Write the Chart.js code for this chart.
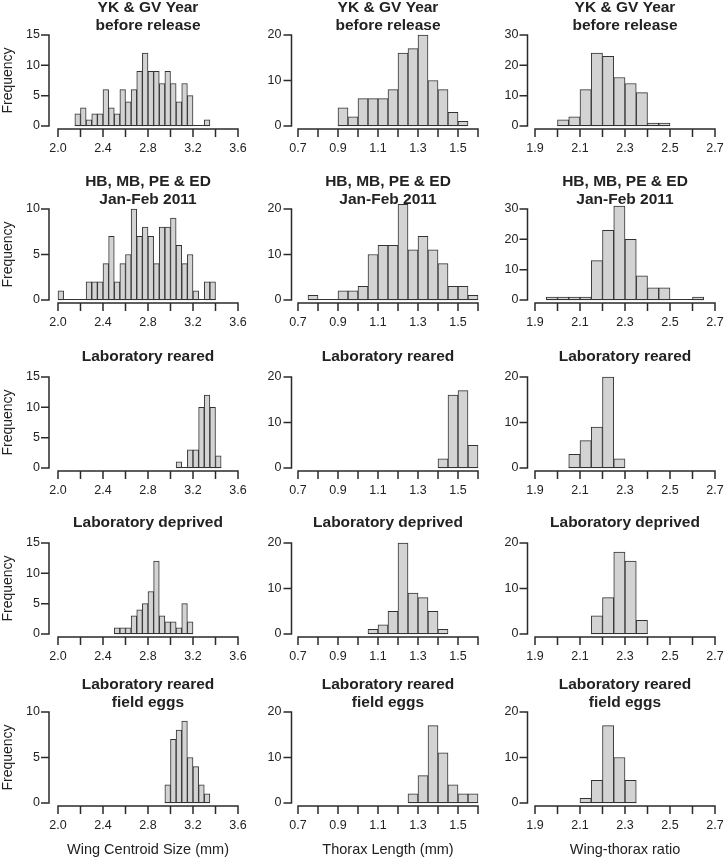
<!DOCTYPE html>
<html>
<head>
<meta charset="utf-8">
<title>Wing and thorax size histograms</title>
<script src="https://cdn.jsdelivr.net/npm/chart.js@4.4.0/dist/chart.umd.min.js"></script>
<style>
  html, body { margin: 0; padding: 0; background: #fff; overflow: hidden; }
  #page { position: relative; width: 725px; height: 859px; overflow: hidden; }
  #page canvas { position: absolute; }
</style>
</head>
<body>
<div id="page"></div>
<script>
const BIN_WIDTH = 0.05;

const rowTitles = [
  ["YK & GV Year", "before release"],
  ["HB, MB, PE & ED", "Jan-Feb 2011"],
  ["Laboratory reared"],
  ["Laboratory deprived"],
  ["Laboratory reared", "field eggs"]
];
const axisTitles = ["Wing Centroid Size (mm)", "Thorax Length (mm)", "Wing-thorax ratio"];

// x axes (one per column)
const xMin = [2.0, 0.7, 1.9];
const xMax = [3.6, 1.6, 2.7];
const xStep = [0.2, 0.1, 0.1];
const wingTickLabels = ["2.0", "2.4", "2.8", "3.2", "3.6"];
const thoraxTickLabels = ["0.7", "0.9", "1.1", "1.3", "1.5"];
const ratioTickLabels = ["1.9", "2.1", "2.3", "2.5", "2.7"];

// y axis top per row: [wing, thorax, ratio]
const yMax = [[15, 20, 30], [10, 20, 30], [15, 20, 20], [15, 20, 20], [10, 20, 20]];

// left edge of the first bin, then the count in each 0.05 bin
const wingStart = [2.15, 2.00, 3.05, 2.50, 2.95];
const wingCounts = [
  [2, 3, 1, 2, 2, 6, 3, 2, 6, 4, 6, 9, 12, 9, 9, 7, 9, 7, 4, 7, 5, 0, 0, 1],
  [1, 0, 0, 0, 0, 2, 2, 2, 4, 7, 2, 4, 5, 10, 7, 8, 7, 4, 8, 8, 9, 6, 4, 5, 1, 0, 2, 2],
  [1, 0, 3, 3, 10, 12, 10, 2],
  [1, 1, 1, 3, 4, 5, 7, 12, 3, 2, 2, 1, 5, 2],
  [2, 7, 8, 9, 5, 4, 2, 1]
];
const thoraxStart = [0.90, 0.75, 1.40, 1.05, 1.25];
const thoraxCounts = [
  [4, 2, 6, 6, 6, 8, 16, 17, 20, 10, 8, 3, 1],
  [1, 0, 0, 2, 2, 3, 10, 12, 12, 21, 11, 14, 11, 8, 3, 3, 1],
  [2, 16, 17, 5],
  [1, 2, 5, 20, 9, 8, 5, 1],
  [2, 6, 17, 11, 4, 2, 2]
];
const ratioStart = [2.00, 1.95, 2.05, 2.15, 2.10];
const ratioCounts = [
  [2, 3, 12, 24, 23, 16, 14, 11, 1, 1],
  [1, 1, 1, 1, 13, 23, 31, 20, 8, 4, 4, 0, 0, 1],
  [3, 6, 9, 20, 2],
  [4, 8, 18, 16, 3],
  [1, 5, 17, 10, 5]
];

// page layout
const colLeft = [0, 245, 485];      // canvas left edge
const plotLeft = [58, 298, 535];    // where the x axis starts
const plotWidth = 180;
const axisGap = [9, 6.5, 7.5];      // y axis sits left of the x axis start
const yTickPad = [18, 16.5, 16.5];
const plotTop = [35, 209, 377, 543, 712];
const plotHeight = 91;

const FONT = "'Liberation Sans', Arial, sans-serif";
const TEXT = "#222";
const AXIS = "#2a2a2a";
const TICK_LEN = 8;

Chart.defaults.font.family = FONT;
Chart.defaults.color = TEXT;

// prism style detached axes
const prismAxes = {
  id: "prismAxes",
  afterDatasetsDraw(chart, args, opts) {
    const { ctx, chartArea } = chart;
    const xs = chart.scales.x, ys = chart.scales.y;
    const yZero = ys.getPixelForValue(0);
    const yTop = ys.getPixelForValue(ys.max);
    const ax = chartArea.left - opts.gap;
    const ay = yZero + 3;
    ctx.save();

    // zero line across the binned range
    ctx.strokeStyle = "#333";
    ctx.lineWidth = 1;
    ctx.beginPath();
    ctx.moveTo(xs.getPixelForValue(opts.binFrom), yZero - 0.5);
    ctx.lineTo(xs.getPixelForValue(opts.binTo), yZero - 0.5);
    ctx.stroke();

    ctx.strokeStyle = AXIS;
    ctx.lineWidth = 1.5;
    ctx.beginPath();
    ctx.moveTo(ax, yTop - 0.75);
    ctx.lineTo(ax, yZero + 0.75);
    ys.ticks.forEach(t => {
      const p = ys.getPixelForValue(t.value);
      ctx.moveTo(ax - TICK_LEN, p);
      ctx.lineTo(ax, p);
    });
    ctx.moveTo(xs.getPixelForValue(xs.min) - 0.75, ay);
    ctx.lineTo(xs.getPixelForValue(xs.max) + 0.75, ay);
    xs.ticks.forEach(t => {
      const p = xs.getPixelForValue(t.value);
      ctx.moveTo(p, ay);
      ctx.lineTo(p, ay + TICK_LEN);
    });
    ctx.stroke();
    ctx.restore();
  }
};

const page = document.getElementById("page");

function makePanel(row, col) {
  const start = [wingStart, thoraxStart, ratioStart][col][row];
  const counts = [wingCounts, thoraxCounts, ratioCounts][col][row];
  const tickLabels = [wingTickLabels, thoraxTickLabels, ratioTickLabels][col];
  const points = counts.map((n, i) => ({ x: start + (i + 0.5) * BIN_WIDTH, y: n === 0 ? null : n }));

  const title = rowTitles[row];
  const lastRow = row === rowTitles.length - 1;
  const titleH = title.length === 2 ? 36 : 29;
  const xBoxH = lastRow ? 58 : 36;
  const top = plotTop[row] - titleH;
  const width = plotLeft[col] - colLeft[col] + plotWidth + 12;
  const height = titleH + plotHeight + xBoxH;

  const canvas = document.createElement("canvas");
  canvas.width = width;
  canvas.height = height;
  canvas.style.left = colLeft[col] + "px";
  canvas.style.top = top + "px";
  canvas.style.width = width + "px";
  canvas.style.height = height + "px";
  page.appendChild(canvas);

  const ymax = yMax[row][col];

  new Chart(canvas, {
    type: "bar",
    data: {
      datasets: [{
        data: points,
        backgroundColor: "#d3d3d3",
        borderColor: "#333",
        borderWidth: 1,
        borderSkipped: false,
        barPercentage: 1,
        categoryPercentage: 1,
        clip: false
      }]
    },
    plugins: [prismAxes],
    options: {
      responsive: false,
      animation: false,
      devicePixelRatio: 1,
      layout: { autoPadding: false, padding: { left: 0, right: 12, top: 0, bottom: 0 } },
      plugins: {
        legend: { display: false },
        tooltip: { enabled: false },
        title: {
          display: true,
          text: title,
          fullSize: false,
          color: TEXT,
          font: { size: 15.5, weight: "bold", lineHeight: "18px" },
          padding: { top: 0, bottom: title.length === 2 ? 0 : 11 }
        },
        prismAxes: {
          gap: axisGap[col],
          binFrom: start,
          binTo: start + counts.length * BIN_WIDTH
        }
      },
      scales: {
        x: {
          type: "linear",
          min: xMin[col],
          max: xMax[col],
          offset: false,
          grid: { display: false, drawTicks: false, offset: false },
          border: { display: false },
          ticks: {
            stepSize: xStep[col],
            autoSkip: false,
            maxRotation: 0,
            padding: 15.5,
            font: { size: 12.5 },
            color: TEXT,
            callback: v => {
              const s = Number(v).toFixed(1);
              return tickLabels.includes(s) ? s : "";
            }
          },
          title: {
            display: lastRow,
            text: axisTitles[col],
            color: TEXT,
            font: { size: 14.5 },
            padding: { top: 0, bottom: 2 }
          },
          afterFit: s => {
            s.height = xBoxH;
            s.paddingLeft = 0;
            s.paddingRight = 0;
          }
        },
        y: {
          min: 0,
          max: ymax,
          grid: { display: false, drawTicks: false },
          border: { display: false },
          ticks: {
            stepSize: ymax >= 20 ? 10 : 5,
            padding: yTickPad[col],
            font: { size: 12.5 },
            color: TEXT
          },
          title: {
            display: col === 0,
            text: "Frequency",
            color: TEXT,
            font: { size: 14 },
            padding: { top: 0, bottom: 0 }
          },
          afterFit: s => {
            s.width = plotLeft[col] - colLeft[col];
          }
        }
      }
    }
  });
}

for (let r = 0; r < rowTitles.length; r++) {
  for (let c = 0; c < 3; c++) {
    makePanel(r, c);
  }
}
</script>
</body>
</html>
